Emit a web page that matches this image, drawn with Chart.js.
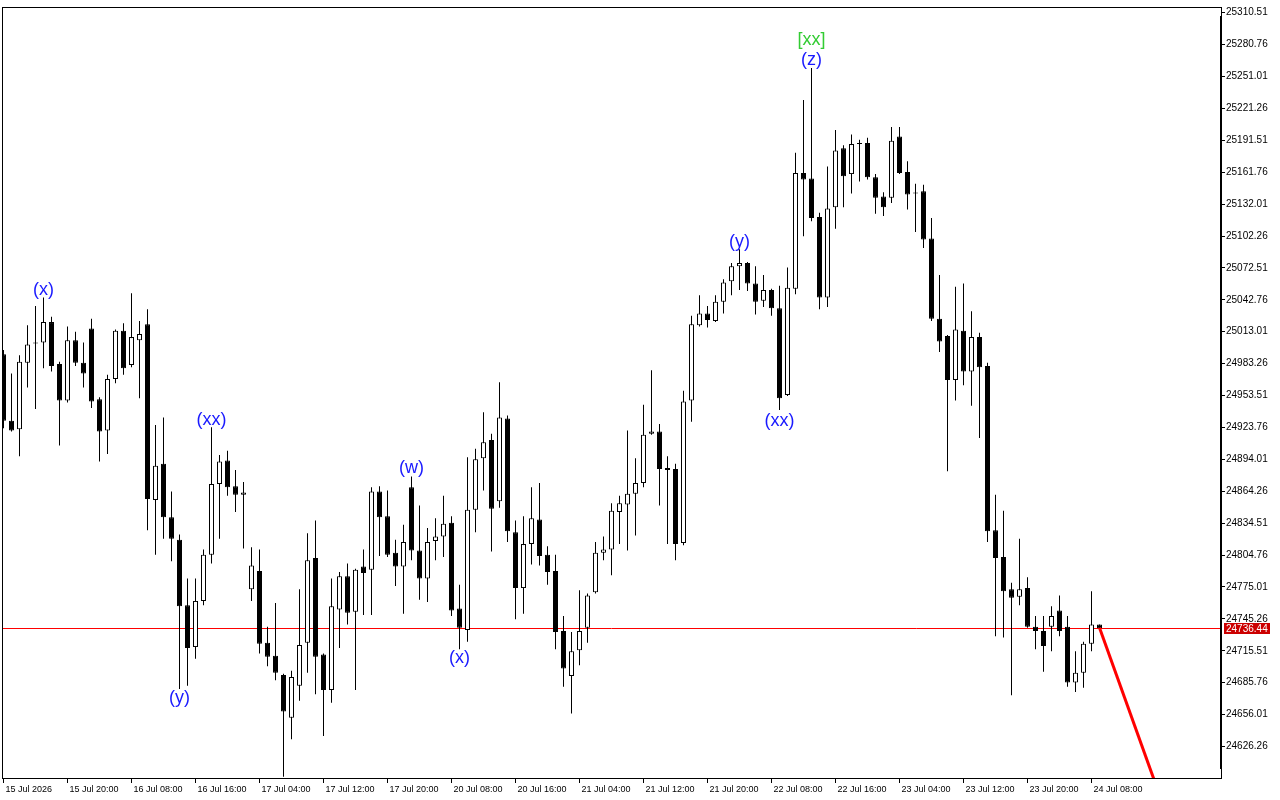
<!DOCTYPE html>
<html>
<head>
<meta charset="utf-8">
<title>H1 candles</title>
<script src="https://cdn.jsdelivr.net/npm/chart.js@4.4.1/dist/chart.umd.min.js"></script>
<style>
  html, body { margin: 0; padding: 0; background: #fff; }
  #wrap { width: 1280px; height: 800px; }
</style>
</head>
<body>
<div id="wrap"><canvas id="chart" width="1280" height="800"></canvas></div>
<script>
// OHLC per hourly candle
const opens = [
  24992,24930,24922,24984,25002,25003,25022,24983,24949,25005,
  24984,25016,24950,24921,24969,25014,24982,25005,25020,24856,
  24890,24840,24819,24758,24719,24762,24805,24871,24893,24869,
  24861,24773,24790,24723,24711,24693,24653,24683,24723,24802,
  24712,24679,24754,24785,24752,24794,24791,24864,24841,24807,
  24794,24868,24809,24783,24818,24822,24835,24755,24735,24847,
  24895,24912,24855,24932,24826,24774,24815,24838,24805,24790,
  24734,24692,24716,24737,24770,24807,24810,24845,24852,24862,
  24872,24918,24920,24886,24885,24816,24949,25019,25030,25023,
  25041,25060,25074,25077,25058,25042,25052,25035,24954,25053,
  25161,25156,25120,25045,25129,25184,25160,25189,25189,25157,
  25139,25138,25195,25162,25142,25144,25100,25025,25009,24968,
  25014,24976,25008,24981,24828,24803,24773,24766,24774,24738,
  24734,24738,24753,24738,24686,24695,24722,24740
];
const highs = [
  24996,24974,24991,25019,25037,25045,25027,24985,25018,25013,
  25003,25025,24952,24973,25015,25021,25049,25023,25034,24926,
  24933,24864,24824,24783,24783,24810,24924,24898,24902,24884,
  24873,24812,24810,24738,24760,24694,24697,24773,24825,24837,
  24713,24783,24789,24797,24792,24810,24868,24869,24865,24819,
  24833,24878,24851,24830,24839,24860,24841,24777,24896,24904,
  24938,24918,24966,24935,24837,24841,24868,24872,24813,24805,
  24748,24733,24772,24769,24817,24822,24853,24860,24921,24895,
  24945,24977,24927,24897,24890,24958,25028,25047,25037,25047,
  25062,25077,25090,25078,25074,25066,25053,25056,25073,25180,
  25229,25259,25124,25167,25201,25187,25197,25192,25194,25160,
  25143,25204,25204,25172,25151,25150,25119,25066,25010,25055,
  25058,25032,25012,24984,24861,24846,24779,24820,24784,24748,
  24748,24757,24767,24748,24715,24724,24771,24740
];
const lows = [
  24923,24920,24897,24961,24941,24979,24976,24907,24947,24981,
  24961,24942,24892,24899,24965,24973,24980,24951,24828,24805,
  24820,24799,24680,24683,24708,24758,24797,24820,24860,24845,
  24811,24762,24713,24701,24688,24598,24633,24669,24695,24675,
  24636,24667,24718,24740,24679,24749,24749,24804,24803,24776,
  24750,24800,24763,24761,24800,24803,24748,24717,24724,24826,
  24865,24808,24849,24817,24745,24750,24796,24795,24777,24717,
  24682,24657,24702,24723,24769,24800,24786,24815,24809,24823,
  24868,24917,24851,24815,24800,24814,24929,25018,25017,25022,
  25030,25047,25052,25051,25029,25036,25028,24940,24953,25048,
  25102,25116,25034,25036,25109,25129,25142,25153,25155,25123,
  25121,25133,25160,25127,25106,25091,25023,24994,24883,24949,
  24963,24944,24914,24817,24729,24728,24674,24758,24737,24717,
  24696,24715,24729,24682,24677,24681,24715,24736
];
const closes = [
  24930,24921,24985,25001,25003,25022,24981,24949,25005,24984,
  24974,24948,24920,24969,25014,24979,25008,25011,24857,24888,
  24840,24820,24757,24718,24762,24805,24871,24892,24868,24861,
  24863,24795,24722,24710,24695,24659,24691,24721,24800,24710,
  24679,24757,24785,24751,24791,24788,24864,24840,24805,24794,
  24817,24809,24783,24817,24822,24834,24753,24737,24847,24894,
  24910,24848,24933,24827,24774,24815,24839,24804,24789,24733,
  24699,24715,24734,24767,24807,24810,24846,24853,24862,24872,
  24917,24920,24885,24884,24815,24948,25020,25030,25024,25041,
  25059,25074,25077,25058,25041,25052,25035,24951,25054,25161,
  25155,25119,25045,25128,25182,25158,25188,25188,25157,25138,
  25129,25191,25161,25141,25142,25099,25025,25004,24968,25015,
  24976,25008,24980,24827,24802,24771,24765,24773,24738,24734,
  24720,24748,24734,24686,24695,24722,24740,24736.44
];

// time axis: label text and the candle it sits under
const timeLabels = ['15 Jul 2026','15 Jul 20:00','16 Jul 08:00','16 Jul 16:00','17 Jul 04:00','17 Jul 12:00',
  '17 Jul 20:00','20 Jul 08:00','20 Jul 16:00','21 Jul 04:00','21 Jul 12:00','21 Jul 20:00',
  '22 Jul 08:00','22 Jul 16:00','23 Jul 04:00','23 Jul 12:00','23 Jul 20:00','24 Jul 08:00'];
const labelAt = [0,8,16,24,32,40,48,56,64,72,80,88,96,104,112,120,128,136];

const priceTicks = [24626.26,24656.01,24685.76,24715.51,24745.26,24775.01,24804.76,24834.51,
  24864.26,24894.01,24923.76,24953.51,24983.26,25013.01,25042.76,25072.51,25102.26,
  25132.01,25161.76,25191.51,25221.26,25251.01,25280.76,25310.51];

// wave marks
const waveText  = ['(x)','(y)','(xx)','(w)','(x)','(y)','(xx)','(z)','[xx]'];
const waveIdx   = [5, 22, 26, 51, 57, 92, 97, 101, 101];
const wavePrice = [25052, 24671, 24931, 24886, 24709, 25097, 24930, 25266, 25285];
const waveColor = ['#1a1aff','#1a1aff','#1a1aff','#1a1aff','#1a1aff','#1a1aff','#1a1aff','#1a1aff','#33cc33'];

// projected path from the last close
const projIdx   = [137, 146];
const projPrice = [24737, 24550];

const lastPrice = 24736.44;

const xMin = -0.1875, xMax = 152.1875;
const yMin = 24596.9, yMax = 25315.8;

const idx = opens.map((_, i) => i);
const wickData = idx.map(i => ({ x: i, y: [lows[i], highs[i]] }));
const bodyData = idx.map(i => ({ x: i, y: [opens[i], closes[i]] }));
const bodyFill = idx.map(i => closes[i] >= opens[i] ? '#ffffff' : '#000000');

const overlay = {
  id: 'overlay',
  beforeDatasetsDraw(chart) {
    const { ctx, chartArea: a, scales: { y } } = chart;
    const py = Math.round(y.getPixelForValue(lastPrice)) + 0.5;
    ctx.save();
    ctx.strokeStyle = '#ff0000';
    ctx.lineWidth = 1;
    ctx.beginPath();
    ctx.moveTo(a.left, py);
    ctx.lineTo(a.right, py);
    ctx.stroke();
    ctx.restore();
  },
  afterDraw(chart) {
    const { ctx, chartArea: a, scales: { x, y } } = chart;
    ctx.save();
    // frame
    ctx.strokeStyle = '#000';
    ctx.lineWidth = 1;
    ctx.strokeRect(a.left + 0.5, a.top + 0.5, a.right - a.left, a.bottom - a.top);
    ctx.fillStyle = '#000';
    ctx.fillRect(a.right - 1, a.top + 9, 2, a.bottom - a.top - 18);

    // wave labels
    ctx.font = '18px "Liberation Sans", Arial, sans-serif';
    ctx.textAlign = 'center';
    ctx.textBaseline = 'middle';
    waveText.forEach((t, i) => {
      ctx.fillStyle = waveColor[i];
      ctx.fillText(t, x.getPixelForValue(waveIdx[i]), y.getPixelForValue(wavePrice[i]));
    });

    // current price tag
    const py = Math.round(y.getPixelForValue(lastPrice));
    ctx.fillStyle = '#cc0000';
    ctx.fillRect(a.right + 3, py - 5, 46, 11);
    ctx.fillStyle = '#fff';
    ctx.font = '10px "Liberation Sans", Arial, sans-serif';
    ctx.textAlign = 'left';
    ctx.fillText(lastPrice.toFixed(2), a.right + 5, py + 1);
    ctx.restore();
  }
};

new Chart(document.getElementById('chart'), {
  type: 'bar',
  data: {
    datasets: [
      {
        type: 'line',
        data: projIdx.map((v, i) => ({ x: v, y: projPrice[i] })),
        borderColor: '#ff0000',
        borderWidth: 3,
        pointRadius: 0,
        order: 0
      },
      {
        label: 'body',
        data: bodyData,
        backgroundColor: bodyFill,
        borderColor: '#000000',
        borderWidth: 1,
        borderSkipped: false,
        barThickness: 5,
        minBarLength: 1,
        inflateAmount: 0,
        grouped: false,
        order: 1
      },
      {
        label: 'wick',
        data: wickData,
        backgroundColor: '#000000',
        borderWidth: 0,
        barThickness: 1,
        inflateAmount: 0,
        grouped: false,
        order: 2
      }
    ]
  },
  options: {
    responsive: false,
    animation: false,
    devicePixelRatio: 1,
    layout: { padding: { left: 2, top: 6, right: 0, bottom: 0 } },
    plugins: { legend: { display: false }, tooltip: { enabled: false } },
    scales: {
      x: {
        type: 'linear',
        min: xMin,
        max: xMax,
        offset: false,
        afterBuildTicks: s => { s.ticks = labelAt.map(v => ({ value: v })); },
        afterFit: s => { s.height = 22; },
        ticks: {
          autoSkip: false,
          maxRotation: 0,
          align: 'start',
          labelOffset: 2,
          padding: 1,
          color: '#000',
          font: { family: 'Liberation Sans', size: 9 },
          callback: v => timeLabels[labelAt.indexOf(v)]
        },
        grid: { offset: false, drawOnChartArea: false, drawTicks: true, tickLength: 5, color: '#000' },
        border: { display: false }
      },
      y: {
        type: 'linear',
        position: 'right',
        min: yMin,
        max: yMax,
        afterBuildTicks: s => { s.ticks = priceTicks.map(v => ({ value: v })); },
        afterFit: s => { s.width = 59; },
        ticks: {
          padding: 1,
          color: '#000',
          font: { family: 'Liberation Sans', size: 10 },
          callback: v => v.toFixed(2)
        },
        grid: { drawOnChartArea: false, tickLength: 4, color: '#000' },
        border: { display: false }
      }
    }
  },
  plugins: [overlay]
});
</script>
</body>
</html>
